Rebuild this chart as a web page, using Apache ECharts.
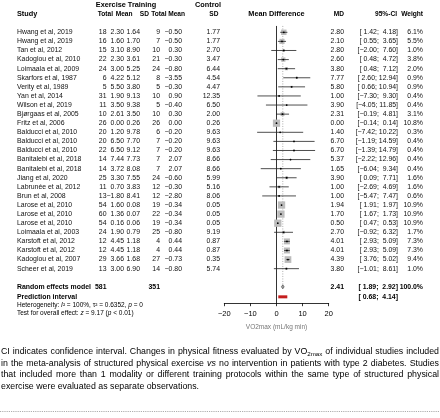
<!DOCTYPE html>
<html><head><meta charset="utf-8">
<script src="https://cdn.jsdelivr.net/npm/echarts/dist/echarts.min.js"></script>
<style>html,body{margin:0;padding:0;background:#fff}#c{width:440px;height:418px}</style>
</head><body><div id="c"></div>
<script>
const studies = ["Hwang et al, 2019","Hwang et al, 2019","Tan et al, 2012","Kadoglou et al, 2010","Loimaala et al, 2009","Skarfors et al, 1987","Verity et al, 1989","Yan et al, 2014","Wilson et al, 2019","Bjørgaas et al, 2005","Fritz et al, 2006","Balducci et al, 2010","Balducci et al, 2010","Balducci et al, 2010","Banitalebi et al, 2018","Banitalebi et al, 2018","Jiang et al, 2020","Labrunée et al, 2012","Brun et al, 2008","Larose et al, 2010","Larose et al, 2010","Larose et al, 2010","Loimaala et al, 2003","Karstoft et al, 2012","Karstoft et al, 2012","Kadoglou et al, 2007","Scheer et al, 2019"];
const totalE = [18,16,15,22,24,6,5,31,11,10,26,20,20,22,14,14,25,11,13,54,60,54,24,12,12,29,13];
const meanE = [2.30,1.60,3.10,2.30,3.00,4.22,5.50,1.90,3.50,2.61,0.00,1.20,6.50,6.50,7.44,3.72,3.30,0.70,-1.80,1.60,1.36,0.16,1.90,4.45,4.45,3.66,3.00];
const sdE = [1.64,1.70,8.90,3.61,5.25,5.12,3.80,9.13,9.38,3.50,0.26,9.78,7.70,9.12,7.73,8.08,7.55,3.83,8.41,0.08,0.07,0.06,0.79,1.18,1.18,1.68,6.90];
const totalC = [9,7,10,21,24,8,5,10,5,10,26,6,7,7,7,7,24,12,12,19,22,19,25,4,4,27,14];
const meanC = [-0.50,-0.50,0.30,-0.30,-0.80,-3.55,-0.30,0.90,-0.40,0.30,0.00,-0.20,-0.20,-0.20,2.07,2.07,-0.60,-0.30,-2.80,-0.34,-0.34,-0.34,-0.80,0.44,0.44,-0.73,-0.80];
const sdC = [1.77,1.77,2.70,3.47,6.44,4.54,4.47,12.35,6.50,2.00,0.26,9.63,9.63,9.63,8.66,8.66,5.99,5.16,8.06,0.05,0.05,0.05,9.19,0.87,0.87,0.35,5.74];
const md = [2.80,2.10,2.80,2.60,3.80,7.77,5.80,1.00,3.90,2.31,0.00,1.40,6.70,6.70,5.37,1.65,3.90,1.00,1.00,1.94,1.70,0.50,2.70,4.01,4.01,4.39,3.80];
const ciLow = [1.42,0.55,-2.00,0.48,0.48,2.60,0.66,-7.30,-4.05,-0.19,-0.14,-7.42,-1.19,-1.39,-2.22,-6.04,0.09,-2.69,-5.47,1.91,1.67,0.47,-0.92,2.93,2.93,3.76,-1.01];
const ciHigh = [4.18,3.65,7.60,4.72,7.12,12.94,10.94,9.30,11.85,4.81,0.14,10.22,14.59,14.79,12.96,9.34,7.71,4.69,7.47,1.97,1.73,0.53,6.32,5.09,5.09,5.02,8.61];
const weight = [6.1,5.5,1.0,3.8,2.0,0.9,0.9,0.4,0.4,3.1,10.8,0.3,0.4,0.4,0.4,0.4,1.6,1.6,0.6,10.9,10.9,10.9,1.7,7.3,7.3,9.4,1.0];

const pooledMD = 2.41, pooledLow = 1.89, pooledHigh = 2.92, pooledWeight = 100.0;
const pooledTotalE = 581, pooledTotalC = 351;
const predLow = 0.68, predHigh = 4.14;
const xTicks = [-20, -10, 0, 10, 20];
const xTitle = 'VO2max (mL/kg min)';
const heterogeneity = { I2: '100%', tau2: '0.6352', p: '0' };
const overall = { z: '9.17', p: '< 0.01' };
const captionLines = [
  'CI indicates confidence interval. Changes in physical fitness evaluated by VO2max of individual studies included',
  'in the meta-analysis of structured physical exercise vs no intervention in patients with type 2 diabetes. Studies',
  'that included more than 1 modality or different training protocols within the same type of structured physical',
  'exercise were evaluated as separate observations.'
];

const FF = '"Liberation Sans", Arial, Helvetica, sans-serif';
const FS = 6.9, HFS = 6.6;
const ROW_RANDOM = 28, ROW_PRED = 29.1, ROW_HEAD = -2, ROW_TITLE = -3;
const COL = { study: 17, totE: 106.5, meanE: 124, sdE: 140, totC: 160, meanC: 182, sdC: 220, md: 344, ci: 398, w: 423 };

const num = v => (v < 0 ? '\u2212' : '') + Math.abs(v).toFixed(2);
const pad5 = s => (s.length < 5 ? ' '.repeat(5 - s.length) : '') + s;
const ciStr = (l, h) => '[' + pad5(num(l)) + '; ' + pad5(num(h)) + ']';

function T(x, y, text, align, extra) {
  return { type: 'text', x: x, y: y, silent: true,
    style: Object.assign({ text: String(text), align: align || 'right', verticalAlign: 'middle',
      fontSize: FS, fontFamily: FF, fill: '#111' }, extra || {}) };
}
const B = { fontWeight: 'bold', fill: '#000' };
const BH = { fontWeight: 'bold', fill: '#000', fontSize: HFS };
const BT = { fontWeight: 'bold', fill: '#000', fontSize: 7.3 };

const chart = echarts.init(document.getElementById('c'), null, { renderer: 'canvas' });

const option = {
  animation: false,
  grid: { left: 224.3, right: 111.3, top: 0.5, height: 302.7 },
  xAxis: {
    type: 'value', min: xTicks[0], max: xTicks[xTicks.length - 1], interval: 10,
    axisLine: { onZero: false, lineStyle: { color: '#000', width: 0.8 } },
    axisTick: { length: 3, lineStyle: { color: '#000', width: 0.8 } },
    axisLabel: { fontSize: 7.5, color: '#000', fontFamily: FF, margin: 7,
      formatter: v => (v < 0 ? '\u2212' + (-v) : String(v)) },
    splitLine: { show: false },
    name: xTitle, nameLocation: 'middle', nameGap: 21,
    nameTextStyle: { fontSize: 6.5, color: '#777', fontFamily: FF }
  },
  yAxis: { type: 'value', min: -3.5, max: 29.8, inverse: true, show: false },
  series: [
    { // reference lines: no effect (0) and pooled estimate
      type: 'custom', silent: true, z: 1,
      data: [[0, pooledMD]],
      renderItem: (p, api) => {
        const a = api.coord([0, -0.7]), b = api.coord([0, 29.8]);
        const c = api.coord([pooledMD, -0.7]), d = api.coord([pooledMD, ROW_RANDOM]);
        return { type: 'group', children: [
          { type: 'line', shape: { x1: a[0], y1: a[1], x2: b[0], y2: b[1] }, style: { stroke: '#000', lineWidth: 0.8 } },
          { type: 'line', shape: { x1: c[0], y1: c[1], x2: d[0], y2: d[1] }, style: { stroke: '#999', lineWidth: 0.8, lineDash: [1, 1.5] } }
        ]};
      }
    },
    { // study estimates
      type: 'custom', silent: true, z: 2,
      data: studies.map((s, i) => [md[i], i]),
      encode: { x: 0, y: 1 },
      renderItem: (p, api) => {
        const i = p.dataIndex;
        const c = api.coord([md[i], i]);
        const l = api.coord([ciLow[i], i]);
        const h = api.coord([ciHigh[i], i]);
        const side = 2.2 * Math.sqrt(weight[i]);
        return { type: 'group', children: [
          { type: 'rect', shape: { x: c[0] - side / 2, y: c[1] - side / 2, width: side, height: side }, style: { fill: '#bcbcbc' } },
          { type: 'line', shape: { x1: l[0], y1: c[1], x2: h[0], y2: c[1] }, style: { stroke: '#222', lineWidth: 0.8 } },
          { type: 'circle', shape: { cx: c[0], cy: c[1], r: 0.9 }, style: { fill: '#000' } }
        ]};
      }
    },
    { // pooled diamond and prediction interval
      type: 'custom', silent: true, z: 3,
      data: [[pooledMD, ROW_RANDOM]],
      renderItem: (p, api) => {
        const m = api.coord([pooledMD, ROW_RANDOM]);
        const l = api.coord([pooledLow, ROW_RANDOM]);
        const h = api.coord([pooledHigh, ROW_RANDOM]);
        const pl = api.coord([predLow, ROW_PRED]);
        const ph = api.coord([predHigh, ROW_PRED]);
        return { type: 'group', children: [
          { type: 'polygon', shape: { points: [[l[0], m[1]], [m[0], m[1] - 2], [h[0], m[1]], [m[0], m[1] + 2]] }, style: { fill: '#aaa', stroke: '#333', lineWidth: 0.6 } },
          { type: 'rect', shape: { x: pl[0], y: pl[1] - 1.5, width: ph[0] - pl[0], height: 3 }, style: { fill: '#c41e1e' } }
        ]};
      }
    },
    { // study table rows
      type: 'custom', silent: true, z: 4,
      data: studies.map((s, i) => [0, i]),
      renderItem: (p, api) => {
        const i = p.dataIndex;
        const y = api.coord([0, i])[1];
        return { type: 'group', children: [
          T(COL.study, y, studies[i], 'left'),
          T(COL.totE, y, totalE[i]), T(COL.meanE, y, num(meanE[i])), T(COL.sdE, y, sdE[i].toFixed(2)),
          T(COL.totC, y, totalC[i]), T(COL.meanC, y, num(meanC[i])), T(COL.sdC, y, sdC[i].toFixed(2)),
          T(COL.md, y, num(md[i])), T(COL.ci, y, ciStr(ciLow[i], ciHigh[i])),
          T(COL.w, y, weight[i].toFixed(1) + '%')
        ]};
      }
    },
    { // headers and pooled rows
      type: 'custom', silent: true, z: 4,
      data: [[0, 0]],
      renderItem: (p, api) => {
        const yt = api.coord([0, ROW_TITLE])[1], yh = api.coord([0, ROW_HEAD])[1];
        const yr = api.coord([0, ROW_RANDOM])[1], yp = api.coord([0, ROW_PRED])[1];
        const xc = api.coord([0, 0])[0];
        return { type: 'group', children: [
          T(126, yt, 'Exercise Training', 'center', BT), T(208, yt, 'Control', 'center', BT),
          T(COL.study, yh, 'Study', 'left', BT),
          T(113, yh, 'Total', 'right', BH), T(132.5, yh, 'Mean', 'right', BH), T(149, yh, 'SD', 'right', BH),
          T(166.5, yh, 'Total', 'right', BH), T(185, yh, 'Mean', 'right', BH), T(218.5, yh, 'SD', 'right', BH),
          T(xc, yh, 'Mean Difference', 'center', BT),
          T(COL.md, yh, 'MD', 'right', BH), T(COL.ci - 1, yh, '95%-CI', 'right', BH), T(COL.w, yh, 'Weight', 'right', BH),
          T(COL.study, yr, 'Random effects model', 'left', B),
          T(COL.totE, yr, pooledTotalE, 'right', B), T(COL.totC, yr, pooledTotalC, 'right', B),
          T(COL.md, yr, num(pooledMD), 'right', B), T(COL.ci, yr, ciStr(pooledLow, pooledHigh), 'right', B),
          T(COL.w, yr, pooledWeight.toFixed(1) + '%', 'right', B),
          T(COL.study, yp, 'Prediction interval', 'left', B), T(COL.ci, yp, ciStr(predLow, predHigh), 'right', B)
        ]};
      }
    }
  ],
  graphic: []
};

// footer texts
const small = { fontSize: 6.5, fontFamily: FF, fill: '#000' };
const gr = [];
gr.push({ type: 'text', x: COL.study, y: 305, silent: true, style: {
  text: '{n|Heterogeneity: }{i|I}{n|\u00b2 = ' + heterogeneity.I2 + ', \u03c4\u00b2 = ' + heterogeneity.tau2 + ', }{i|p}{n| = ' + heterogeneity.p + '}',
  align: 'left', verticalAlign: 'middle', fontSize: 6.5, fontFamily: FF, fill: '#000',
  rich: { n: small, i: Object.assign({ fontStyle: 'italic' }, small) } } });
gr.push({ type: 'text', x: COL.study, y: 313.5, silent: true, style: {
  text: '{n|Test for overall effect: }{i|z}{n| = ' + overall.z + ' (}{i|p}{n| ' + overall.p + ')}',
  align: 'left', verticalAlign: 'middle', fontSize: 6.5, fontFamily: FF, fill: '#000',
  rich: { n: small, i: Object.assign({ fontStyle: 'italic' }, small) } } });

// justified caption
const CFS = 8.8, SUBFS = 6.2, LEFT = 1, RIGHT = 439, CAP_Y0 = 352, CAP_DY = 11.5;
const ctx = document.createElement('canvas').getContext('2d');
function wordWidth(w) {
  if (w === 'VO2max') {
    ctx.font = CFS + 'px ' + FF; const a = ctx.measureText('VO').width;
    ctx.font = SUBFS + 'px ' + FF; return a + ctx.measureText('2max').width;
  }
  ctx.font = (w === 'vs' ? 'italic ' : '') + CFS + 'px ' + FF;
  return ctx.measureText(w).width;
}
ctx.font = CFS + 'px ' + FF;
const spaceW = ctx.measureText(' ').width;
captionLines.forEach((line, li) => {
  const words = line.split(' ');
  const ws = words.map(wordWidth);
  const total = ws.reduce((a, b) => a + b, 0);
  const last = li === captionLines.length - 1;
  const gap = last ? spaceW : (RIGHT - LEFT - total) / (words.length - 1);
  let x = LEFT;
  const y = CAP_Y0 + li * CAP_DY;
  words.forEach((w, k) => {
    const base = { fontSize: CFS, fontFamily: FF, fill: '#000', align: 'left', verticalAlign: 'middle' };
    if (w === 'VO2max') {
      ctx.font = CFS + 'px ' + FF; const a = ctx.measureText('VO').width;
      gr.push({ type: 'text', x: x, y: y, silent: true, style: Object.assign({ text: 'VO' }, base) });
      gr.push({ type: 'text', x: x + a, y: y + 2.5, silent: true, style: Object.assign({}, base, { text: '2max', fontSize: SUBFS }) });
    } else {
      gr.push({ type: 'text', x: x, y: y, silent: true, style: Object.assign({ text: w }, base, w === 'vs' ? { fontStyle: 'italic' } : {}) });
    }
    x += ws[k] + gap;
  });
});
gr.push({ type: 'line', silent: true, shape: { x1: 0, y1: 411.5, x2: 440, y2: 411.5 }, style: { stroke: '#999', lineWidth: 0.8, lineDash: [1.2, 1] } });
option.graphic = gr;

chart.setOption(option);
</script>
</body></html>
